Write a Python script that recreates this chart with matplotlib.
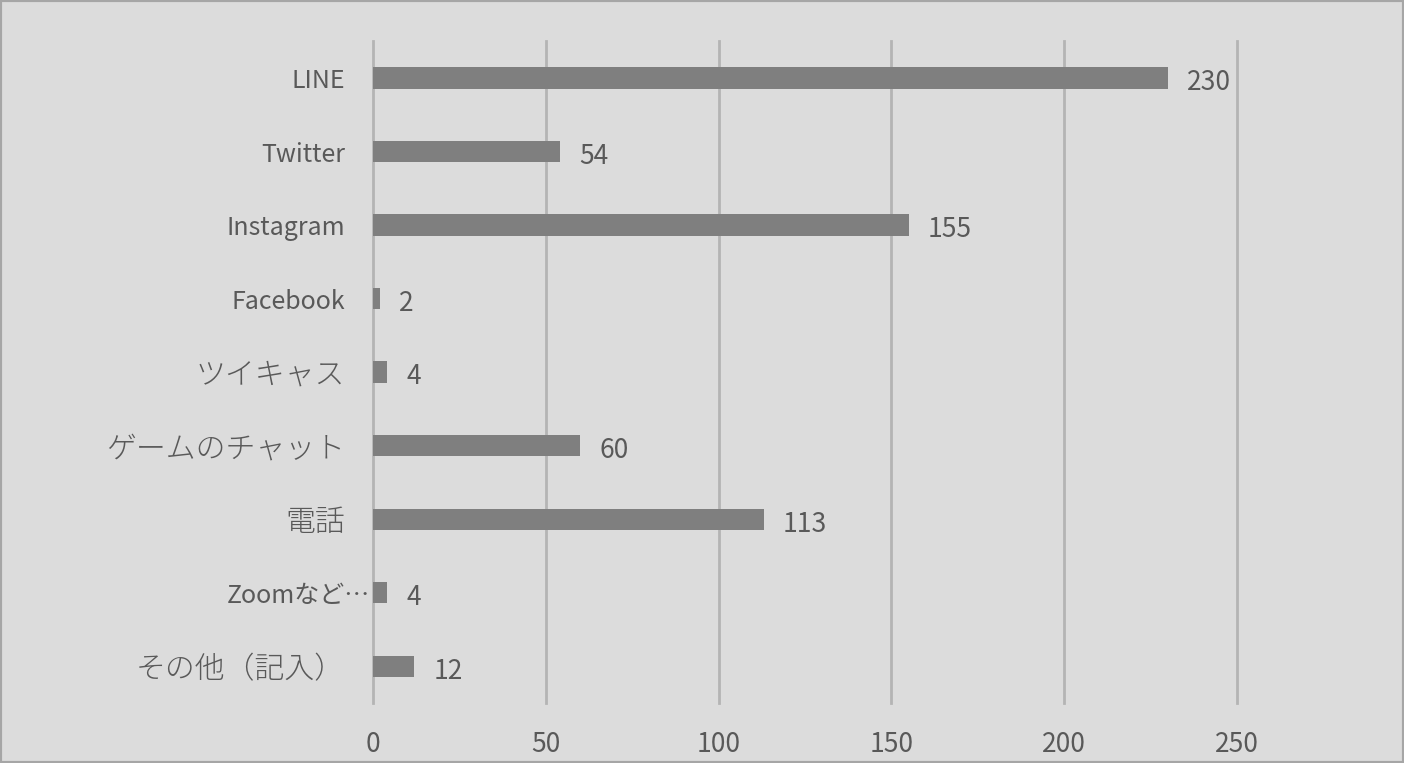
import matplotlib
matplotlib.use("Agg")
import matplotlib.pyplot as plt
from matplotlib.patches import Rectangle
import matplotlib.transforms as mtransforms

plt.rcParams['font.family'] = ['Noto Sans CJK JP', 'DejaVu Sans']

categories = ["LINE", "Twitter", "Instagram", "Facebook", "ツイキャス",
              "ゲームのチャット", "電話", "Zoomなど…", "その他（記入）"]
values = [230, 54, 155, 2, 4, 60, 113, 4, 12]
xticks = [0, 50, 100, 150, 200, 250]

bg = "#dcdcdc"
bar_color = "#7f7f7f"
grid_color = "#b4b4b4"
text_color = "#595959"

fig = plt.figure(figsize=(14.04, 7.63), dpi=100, facecolor=bg)
ax = fig.add_axes([373/1404, 1 - 703/763, 864/1404, (703 - 41.25)/763])
ax.set_facecolor(bg)

y = list(range(len(categories)))
bars = ax.barh(y, values, height=0.29, color=bar_color, zorder=3)
ax.set_ylim(len(categories) - 0.5, -0.5)
ax.set_xlim(0, 250)
ax.set_xticks(xticks)
ax.set_xticklabels([str(t) for t in xticks])
ax.set_yticks(y)
ax.set_yticklabels(categories)

for s in ax.spines.values():
    s.set_visible(False)
ax.grid(axis='x', color=grid_color, linewidth=2, zorder=0)
for gl in ax.get_xgridlines():
    gl.set_clip_on(False)
ax.tick_params(axis='both', length=0, labelcolor=text_color)
ax.tick_params(axis='y', pad=20, labelsize=18)
ax.tick_params(axis='x', pad=20, labelsize=19)

for lbl in ax.get_yticklabels():
    t = lbl.get_text()
    if t in ("ツイキャス", "ゲームのチャット", "電話", "その他（記入）"):
        lbl.set_fontsize(21.5)
        lbl.set_fontweight('light')
    if t.startswith("Zoom"):
        lbl.set_transform(lbl.get_transform() +
                          mtransforms.ScaledTranslation(25/100, 0, fig.dpi_scale_trans))

labels = ax.bar_label(bars, labels=[str(v) for v in values], padding=14,
                      fontsize=19, color=text_color)
for l in labels:
    l.xyann = (14, -3.5)

fig.add_artist(Rectangle((0, 0), 1, 1, transform=fig.transFigure,
                         fill=False, edgecolor="#a6a6a6", linewidth=3))

fig.savefig("out.png", dpi=100, facecolor=bg)
